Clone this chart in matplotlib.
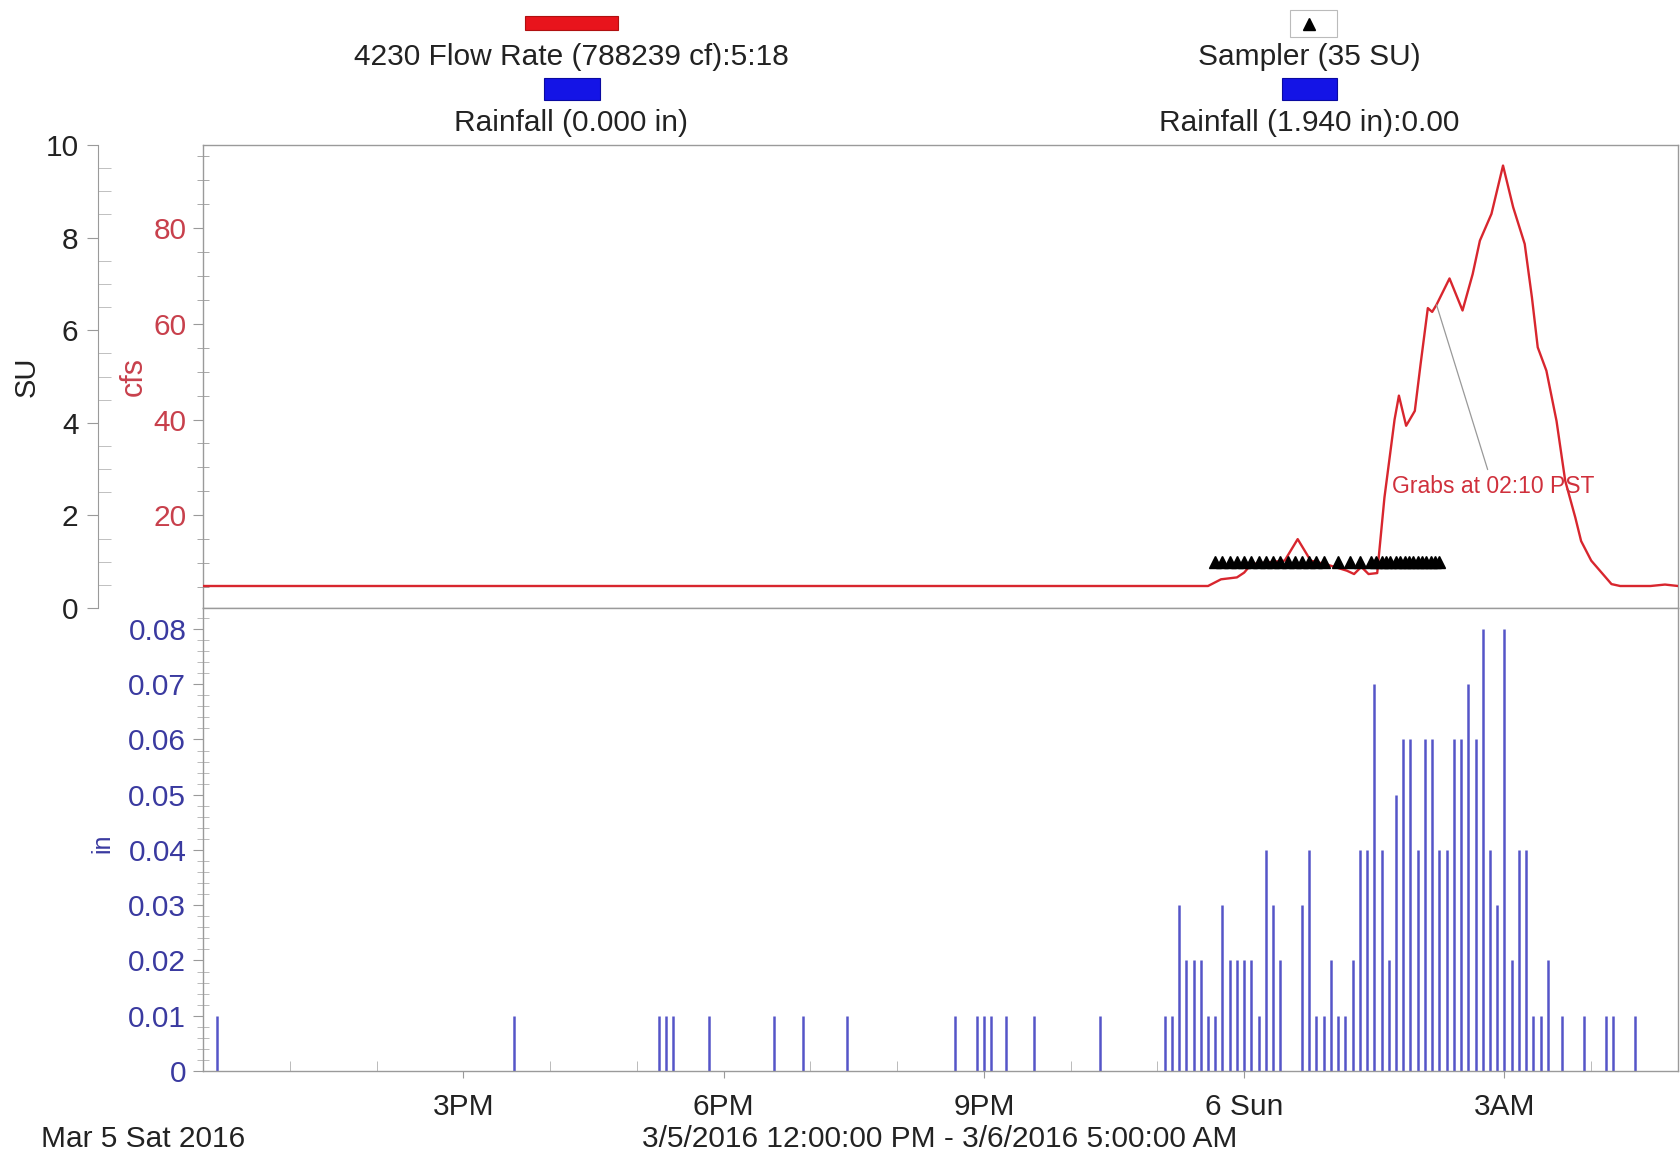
import matplotlib
matplotlib.use("Agg")
import matplotlib.pyplot as plt
import matplotlib.dates as mdates
from matplotlib.ticker import FixedLocator, MultipleLocator, FixedFormatter
from matplotlib.patches import Rectangle
from matplotlib.lines import Line2D
import pandas as pd

plt.rcParams['font.family'] = ['Liberation Sans', 'DejaVu Sans']

# ---------------- data ----------------
flow_time = ["12:00", "23:35", "23:44", "23:55", "00:00", "00:05", "00:28", "00:37",
             "00:46", "00:56", "01:11", "01:16", "01:21", "01:26", "01:32", "01:37",
             "01:41", "01:44", "01:47", "01:52", "01:58", "02:02", "02:07", "02:10",
             "02:13", "02:22", "02:31", "02:38", "02:43", "02:51", "02:59", "03:06",
             "03:14", "03:19", "03:23", "03:29", "03:36", "03:42", "03:49", "03:53",
             "04:00", "04:08", "04:14", "04:20", "04:41", "04:51", "05:00"]
flow_cfs = [5.2, 5.2, 6.6, 7.0, 8.0, 9.8, 10.5, 15.0,
            10.5, 9.8, 8.4, 7.7, 9.2, 7.7, 7.9, 23.7,
            33.0, 40.0, 45.0, 38.7, 41.8, 51.6, 63.3, 62.5,
            64.0, 69.5, 62.8, 70.4, 77.4, 83.0, 93.1, 84.4,
            76.7, 65.5, 55.1, 50.2, 39.7, 27.2, 19.5, 14.6,
            10.5, 7.7, 5.6, 5.2, 5.2, 5.5, 5.2]

sampler_time = ["23:40", "23:45", "23:50", "23:55", "00:00", "00:05", "00:10", "00:15",
                "00:20", "00:25", "00:30", "00:35", "00:40", "00:45", "00:50", "00:55",
                "01:05", "01:13", "01:20",
                "01:28", "01:31", "01:35", "01:38", "01:41", "01:45", "01:48", "01:51",
                "01:54", "01:57", "02:00", "02:03", "02:06", "02:09", "02:12", "02:15"]
sampler_su = [1, 1, 1, 1, 1, 1, 1, 1, 1, 1, 1, 1, 1, 1, 1, 1, 1, 1,
              1, 1, 1, 1, 1, 1, 1, 1, 1, 1, 1, 1, 1, 1, 1, 1, 1]

rain_time = ["12:10", "15:35", "17:15", "17:20", "17:25", "17:50", "18:35", "18:55",
             "19:25", "20:40", "20:55", "21:00", "21:05", "21:15", "21:35", "22:20",
             "23:05", "23:10", "23:15", "23:20", "23:25", "23:30", "23:35", "23:40",
             "23:45", "23:50", "23:55", "00:00", "00:05", "00:10", "00:15", "00:20",
             "00:25", "00:40", "00:45", "00:50", "00:55", "01:00", "01:05", "01:10",
             "01:15", "01:20", "01:25", "01:30", "01:35", "01:40", "01:45", "01:50",
             "01:55", "02:00", "02:05", "02:10", "02:15", "02:20", "02:25", "02:30",
             "02:35", "02:40", "02:45", "02:50", "02:55", "03:00", "03:05", "03:10",
             "03:15", "03:20", "03:25", "03:30", "03:40", "03:55", "04:10", "04:15",
             "04:30"]
rain_in = [0.01, 0.01, 0.01, 0.01, 0.01, 0.01, 0.01, 0.01,
           0.01, 0.01, 0.01, 0.01, 0.01, 0.01, 0.01, 0.01,
           0.01, 0.01, 0.03, 0.02, 0.02, 0.02, 0.01, 0.01,
           0.03, 0.02, 0.02, 0.02, 0.02, 0.01, 0.04, 0.03,
           0.02, 0.03, 0.04, 0.01, 0.01, 0.02, 0.01, 0.01,
           0.02, 0.04, 0.04, 0.07, 0.04, 0.02, 0.05, 0.06,
           0.06, 0.04, 0.06, 0.06, 0.04, 0.04, 0.06, 0.06,
           0.07, 0.06, 0.08, 0.04, 0.03, 0.08, 0.02, 0.04,
           0.04, 0.01, 0.01, 0.02, 0.01, 0.01, 0.01, 0.01,
           0.01]

xtick_time = ["15:00", "18:00", "21:00", "00:00", "03:00"]
xtick_labels = ["3PM", "6PM", "9PM", "6 Sun", "3AM"]
cfs_ticks = [20, 40, 60, 80]
su_ticks = [0, 2, 4, 6, 8, 10]
rain_ticks = [0, 0.01, 0.02, 0.03, 0.04, 0.05, 0.06, 0.07, 0.08]
rain_tick_labels = ["0", "0.01", "0.02", "0.03", "0.04", "0.05", "0.06", "0.07", "0.08"]


def to_dt(s):
    day = "2016-03-05" if int(s[:2]) >= 12 else "2016-03-06"
    return pd.Timestamp(f"{day} {s}")


def to_dts(lst):
    return [to_dt(s) for s in lst]


t_start = pd.Timestamp("2016-03-05 12:00")
t_end = pd.Timestamp("2016-03-06 05:00")

# ---------------- figure ----------------
W, H = 1680, 1160
fig = plt.figure(figsize=(W / 100, H / 100), dpi=100)
fig.patch.set_facecolor("white")

FS = 21.5
L, R = 203, 1678
ax_top = fig.add_axes([L / W, 1 - 608 / H, (R - L) / W, (608 - 145) / H])
ax_bot = fig.add_axes([L / W, 1 - 1071 / H, (R - L) / W, (1071 - 608) / H], sharex=ax_top)

red = "#d8262e"
cfs_col = "#c8404c"
blue_lbl = "#3a3aa0"
spine_col = "#9a9a9a"
txt_col = "#222222"

# ---- top: flow ----
ax_top.plot(to_dts(flow_time), flow_cfs, color=red, lw=1.7, zorder=3)
ax_top.set_ylim(0.6, 97.4)
ax_top.yaxis.set_major_locator(FixedLocator(cfs_ticks))
ax_top.yaxis.set_minor_locator(MultipleLocator(5))
ax_top.tick_params(axis="y", which="major", direction="out", length=7, color=spine_col,
                   labelsize=FS, labelcolor=cfs_col, pad=5)
ax_top.tick_params(axis="y", which="minor", direction="inout", length=8, color=spine_col)
ax_top.tick_params(axis="x", which="both", bottom=False, labelbottom=False)
for sp in ax_top.spines.values():
    sp.set_color(spine_col)
    sp.set_linewidth(1.0)
ax_top.set_ylabel("cfs", color=cfs_col, fontsize=22, va="center")
ax_top.yaxis.set_label_coords((134 - L) / (R - L), 0.5)

ax_top.annotate("Grabs at 02:10 PST", xy=(to_dt("02:13"), 64.0),
                xytext=(to_dt("02:52"), 26.0), ha="center", va="center",
                color="#d0303c", fontsize=16.5,
                arrowprops=dict(arrowstyle="-", color="#999999", lw=0.9,
                                shrinkA=2, shrinkB=0), zorder=4)

# ---- SU axis ----
ax_su = ax_top.twinx()
ax_su.set_ylim(0, 10)
ax_su.yaxis.tick_left()
ax_su.yaxis.set_label_position("left")
ax_su.spines["left"].set_position(("axes", -(L - 98) / (R - L)))
ax_su.spines["left"].set_visible(True)
ax_su.spines["left"].set_color(spine_col)
for k in ("right", "top", "bottom"):
    ax_su.spines[k].set_visible(False)
ax_su.yaxis.set_major_locator(FixedLocator(su_ticks))
ax_su.yaxis.set_minor_locator(MultipleLocator(0.5))
ax_su.tick_params(axis="y", which="major", direction="out", length=8, color=spine_col,
                  labelsize=FS, labelcolor=txt_col, pad=6)
ax_su.tick_params(axis="y", which="minor", direction="in", length=9, color="#b5b5b5")
ax_su.set_ylabel("SU", fontsize=21, color=txt_col, va="center")
ax_su.yaxis.set_label_coords((27 - L) / (R - L), 0.5)
ax_su.plot(to_dts(sampler_time), sampler_su, linestyle="none", marker="^",
           color="black", markersize=8, zorder=5)

# ---- bottom: rainfall ----
ax_bot.vlines(to_dts(rain_time), 0, rain_in, color="#5555c8", lw=1.8)
ax_bot.set_ylim(0, 0.0838)
ax_bot.yaxis.set_major_locator(FixedLocator(rain_ticks))
ax_bot.yaxis.set_major_formatter(FixedFormatter(rain_tick_labels))
ax_bot.yaxis.set_minor_locator(MultipleLocator(0.002))
ax_bot.tick_params(axis="y", which="major", direction="out", length=7, color=spine_col,
                   labelsize=FS, labelcolor=blue_lbl, pad=5)
ax_bot.tick_params(axis="y", which="minor", direction="inout", length=8, color="#b0b0b0")
for sp in ax_bot.spines.values():
    sp.set_color(spine_col)
    sp.set_linewidth(1.0)
ax_bot.set_ylabel("in", color=blue_lbl, fontsize=18, va="center")
ax_bot.yaxis.set_label_coords((102 - L) / (R - L), (1071 - 843) / 463)

ax_bot.set_xlim(t_start, t_end)
ax_bot.xaxis.set_major_locator(FixedLocator(mdates.date2num(to_dts(xtick_time))))
ax_bot.xaxis.set_major_formatter(FixedFormatter(xtick_labels))
ax_bot.xaxis.set_minor_locator(mdates.HourLocator())
ax_bot.tick_params(axis="x", which="major", direction="out", length=5, color=spine_col,
                   labelsize=FS, labelcolor=txt_col, pad=11)
ax_bot.tick_params(axis="x", which="minor", direction="in", length=7, color="#b0b0b0")

# ---- bottom texts ----
fig.text(41 / W, 1 - 1139 / H, "Mar 5 Sat 2016", ha="left", va="center",
         fontsize=FS, color=txt_col)
fig.text(940 / W, 1 - 1139 / H, "3/5/2016 12:00:00 PM - 3/6/2016 5:00:00 AM",
         ha="center", va="center", fontsize=FS, color=txt_col)

# ---- legend (top) ----
tf = fig.transFigure
fig.patches.append(Rectangle((525 / W, 1 - 30 / H), 93 / W, 14 / H, transform=tf,
                             facecolor="#e8141c", edgecolor="#b01010", lw=0.8))
fig.patches.append(Rectangle((544 / W, 1 - 100 / H), 56 / W, 22 / H, transform=tf,
                             facecolor="#1414e6", edgecolor="#0a0aa0", lw=0.8))
fig.patches.append(Rectangle((1282 / W, 1 - 100 / H), 55 / W, 22 / H, transform=tf,
                             facecolor="#1414e6", edgecolor="#0a0aa0", lw=0.8))
fig.patches.append(Rectangle((1290 / W, 1 - 37 / H), 47 / W, 27 / H, transform=tf,
                             facecolor="none", edgecolor="#bbbbbb", lw=0.8))
fig.lines.append(Line2D([1309 / W], [1 - 24 / H], transform=tf, marker="^",
                        color="black", markersize=9, linestyle="none"))
fig.text(571 / W, 1 - 57 / H, "4230 Flow Rate (788239 cf):5:18", ha="center",
         va="center", fontsize=FS, color=txt_col)
fig.text(571 / W, 1 - 123 / H, "Rainfall (0.000 in)", ha="center", va="center",
         fontsize=FS, color=txt_col)
fig.text(1309 / W, 1 - 57 / H, "Sampler (35 SU)", ha="center", va="center",
         fontsize=FS, color=txt_col)
fig.text(1309 / W, 1 - 123 / H, "Rainfall (1.940 in):0.00", ha="center", va="center",
         fontsize=FS, color=txt_col)

fig.savefig("out.png", dpi=100, facecolor="white")
